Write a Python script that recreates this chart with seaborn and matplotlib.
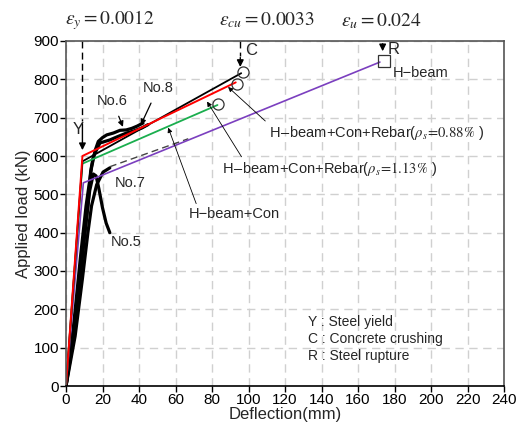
import matplotlib
matplotlib.use("Agg")
import matplotlib.pyplot as plt
import seaborn as sns
import pandas as pd

# ---------------- data ----------------
# analysis lines (deflection mm, load kN)
hbeam_x = [0, 9.5, 172]
hbeam_y = [0, 530, 845]
hbcon_x = [0, 9, 83]
hbcon_y = [0, 580, 733]
reb088_x = [0, 9, 93]
reb088_y = [0, 600, 792]
reb113_x = [0, 9, 96]
reb113_y = [0, 586, 816]

# test curves
no6_x = [0, 4, 8, 11, 14, 16, 17.7, 20, 22.3, 26, 29.6, 33, 36, 39, 42.2]
no6_y = [0, 150, 340, 470, 570, 615, 638, 648, 655, 660, 667, 668, 672, 678, 686]
no8_x = [0, 5, 9, 12, 13.5, 15, 18.6, 24.1, 28, 33.2, 37, 41.5, 45]
no8_y = [0, 150, 340, 470, 560, 599, 634, 642, 650, 660, 665, 673, 682]
no7_x = [0, 5, 9, 12, 14, 16.8, 20.3, 24]
no7_y = [0, 130, 280, 400, 470, 525, 558, 569]
no5_x = [0, 4, 8, 11, 13, 15, 16.5, 18, 20, 22, 24]
no5_y = [0, 140, 300, 430, 510, 553, 548, 515, 465, 425, 400]
no7ext_x = [24, 67]
no7ext_y = [572, 645]

x_ticks = list(range(0, 241, 20))
y_ticks = list(range(0, 901, 100))

# ---------------- style ----------------
sns.set_theme(style="white")
plt.rcParams["font.family"] = ["Liberation Sans", "DejaVu Sans"]
plt.rcParams["mathtext.fontset"] = "stix"

fig = plt.figure(figsize=(5.26, 4.23), dpi=100)
ax = fig.add_axes([66/526, 37/423, 438/526, 345/423])

def line(x, y, color, lw, ls="-"):
    df = pd.DataFrame({"x": x, "y": y})
    sns.lineplot(data=df, x="x", y="y", ax=ax, color=color, lw=lw,
                 linestyle=ls, sort=False, estimator=None)

# test curves (thick black)
for xx, yy in [(no6_x, no6_y), (no8_x, no8_y), (no7_x, no7_y), (no5_x, no5_y)]:
    line(xx, yy, "black", 2.3)
line(no7ext_x, no7ext_y, "#444444", 1.0, ls=(0, (5, 3)))

# analysis lines
line(hbeam_x, hbeam_y, "#7b3fbf", 1.2)
line(hbcon_x, hbcon_y, "#1aae4e", 1.3)
line(reb113_x, reb113_y, "black", 1.3)
line(reb088_x, reb088_y, "#ff0000", 1.4)

# markers
ax.plot([reb113_x[-1] + 0.8], [reb113_y[-1] + 3], "o", mfc="none", mec="#333333", ms=8, mew=0.9)
ax.plot([reb088_x[-1] + 0.8], [reb088_y[-1] - 3], "o", mfc="none", mec="#333333", ms=8, mew=0.9)
ax.plot([hbcon_x[-1] + 0.5], [hbcon_y[-1] + 3], "o", mfc="none", mec="#333333", ms=8, mew=0.9)
ax.plot([hbeam_x[-1] + 2], [hbeam_y[-1] + 3], "s", mfc="none", mec="#333333", ms=9, mew=0.9)

# vertical indicator lines with arrows
ax.plot([9, 9], [900, 690], color="black", lw=1.0, ls=(0, (5, 3)))
ax.annotate("", xy=(9, 608), xytext=(9, 692),
            arrowprops=dict(arrowstyle="-|>", color="black", lw=1.0, mutation_scale=10))
ax.plot([95.5, 95.5], [900, 862], color="black", lw=1.0, ls=(0, (5, 3)))
ax.annotate("", xy=(95.5, 825), xytext=(95.5, 864),
            arrowprops=dict(arrowstyle="-|>", color="black", lw=1.0, mutation_scale=10))
ax.annotate("", xy=(173.5, 866), xytext=(173.5, 900),
            arrowprops=dict(arrowstyle="-|>", color="black", lw=1.0, mutation_scale=10))

# point labels
ax.text(3.5, 668, "Y", fontsize=12, ha="left", va="center")
ax.text(98, 875, "C", fontsize=12, ha="left", va="center")
ax.text(176, 878, "R", fontsize=12, ha="left", va="center")
ax.text(179, 817, "H\u2212beam", fontsize=10.5, ha="left", va="center")

# series labels with arrows
arrow_kw = dict(arrowstyle="-|>", color="black", lw=0.6, mutation_scale=7)
ax.annotate(r"H$-$beam+Con+Rebar($\rho_s\!=\!0.88\%$ )",
            xy=(88.8, 780), xytext=(111, 660), fontsize=10.5, ha="left", va="center",
            arrowprops=dict(arrow_kw, shrinkA=0, shrinkB=0, relpos=(0, 1)))
ax.annotate(r"H$-$beam+Con+Rebar($\rho_s\!=\!1.13\%$ )",
            xy=(77.3, 742), xytext=(85.5, 566), fontsize=10.5, ha="left", va="center",
            arrowprops=dict(arrow_kw, shrinkA=0, shrinkB=0, relpos=(0.1, 1)))
ax.annotate("H\u2212beam+Con",
            xy=(56, 674), xytext=(67, 449), fontsize=10.5, ha="left", va="center",
            arrowprops=dict(arrow_kw, shrinkA=0, shrinkB=0, relpos=(0.1, 1)))

# test labels
ax.annotate("No.6", xy=(31.2, 676), xytext=(25.5, 744), fontsize=10.5, ha="center", va="center",
            arrowprops=dict(arrowstyle="-|>", color="black", lw=0.9, mutation_scale=8,
                            shrinkA=4, shrinkB=0))
ax.annotate("No.8", xy=(41, 681), xytext=(50.5, 778), fontsize=10.5, ha="center", va="center",
            arrowprops=dict(arrowstyle="-|>", color="black", lw=0.9, mutation_scale=8,
                            shrinkA=4, shrinkB=0))
ax.text(35, 530, "No.7", fontsize=10.5, ha="center", va="center")
ax.text(33, 375, "No.5", fontsize=10.5, ha="center", va="center")

# explanation box text
ax.text(132.5, 167, "Y : Steel yield", fontsize=10, ha="left", va="center")
ax.text(132.5, 123, "C : Concrete crushing", fontsize=10, ha="left", va="center")
ax.text(132.5, 79, "R : Steel rupture", fontsize=10, ha="left", va="center")

# strain labels above the axes
fig.text(110/526, 1 - 20/423, r"$\varepsilon_y = 0.0012$", fontsize=14, ha="center", va="center")
fig.text(267/526, 1 - 20/423, r"$\varepsilon_{cu} = 0.0033$", fontsize=14, ha="center", va="center")
fig.text(381/526, 1 - 21/423, r"$\varepsilon_u = 0.024$", fontsize=14, ha="center", va="center")

# axes
ax.set_xlim(0, 240)
ax.set_ylim(0, 900)
ax.set_xticks(x_ticks)
ax.set_yticks(y_ticks)
ax.set_xlabel("Deflection(mm)", fontsize=12, labelpad=0)
ax.set_ylabel("Applied load (kN)", fontsize=12, labelpad=2)
ax.tick_params(axis="both", labelsize=11, length=4, width=1, direction="out",
               bottom=True, left=True, pad=1, colors="black")
ax.grid(True, color="#d0d0d0", ls=(0, (6, 4)), lw=1.0)
for s in ax.spines.values():
    s.set_color("#555555")
    s.set_linewidth(1.2)
ax.spines["bottom"].set_color("black")

fig.savefig("out.png", dpi=100)
